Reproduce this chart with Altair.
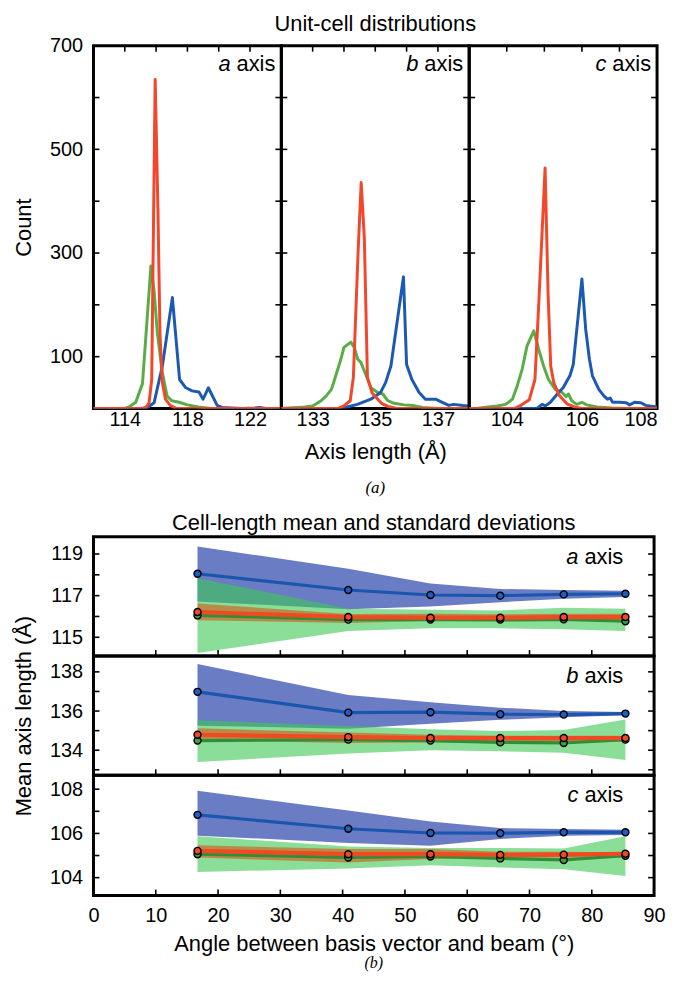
import altair as alt
import pandas as pd

FONT = "Liberation Sans"
SERIF = "Liberation Serif"
BLUE = "#1c59b3"
RED = "#f2472a"
GREEN = "#58ad47"

# ---------------- (a) Unit-cell distributions ----------------
a_blue_x = [112.0, 115.0, 115.45, 115.87, 116.4, 117.04, 117.5, 117.9, 118.3, 118.74, 119.0, 119.34, 119.9, 120.2, 120.8, 121.5, 122.3, 122.6, 123.0, 124.0]
a_blue_y = [0, 0, 2, 11, 82, 214, 56, 40, 34, 32, 18, 40, 6, 2, 1, 0, 1, 2, 0, 0]
a_red_x = [112.0, 115.3, 115.55, 115.72, 115.94, 116.12, 116.25, 116.4, 116.6, 116.9, 117.3, 124.0]
a_red_y = [0, 0, 11, 56, 635, 380, 140, 50, 18, 6, 0, 0]
a_green_x = [112.0, 114.0, 114.27, 114.7, 115.13, 115.67, 115.87, 116.08, 116.4, 116.7, 117.0, 117.47, 118.0, 118.7, 119.5, 124.0]
a_green_y = [0, 0, 3, 12, 48, 275, 227, 146, 69, 24, 15, 12, 7, 3, 0, 0]

b_blue_x = [132.0, 133.8, 134.1, 134.43, 134.86, 135.17, 135.33, 135.5, 135.9, 136.0, 136.17, 136.4, 136.6, 136.93, 137.14, 137.35, 137.5, 137.8, 138.0]
b_blue_y = [0, 0, 3, 8, 18, 31, 50, 82, 254, 85, 56, 31, 18, 18, 12, 6, 8, 6, 5]
b_red_x = [132.0, 133.8, 134.0, 134.2, 134.3, 134.45, 134.55, 134.65, 134.75, 134.9, 135.05, 135.2, 135.4, 135.7, 138.0]
b_red_y = [0, 0, 5, 15, 60, 300, 436, 330, 60, 30, 20, 10, 4, 0, 0]
b_green_x = [132.0, 132.74, 133.0, 133.27, 133.43, 133.6, 133.7, 133.9, 134.0, 134.22, 134.33, 134.44, 134.54, 134.76, 134.86, 135.08, 135.24, 135.4, 135.6, 135.92, 136.2, 136.5, 137.0, 138.0]
b_green_y = [0, 3, 5, 15, 24, 37, 56, 95, 118, 128, 118, 95, 89, 56, 40, 31, 28, 15, 10, 7, 6, 2, 0, 0]

c_blue_x = [103.0, 104.8, 104.94, 105.03, 105.16, 105.38, 105.5, 105.68, 105.77, 106.0, 106.1, 106.2, 106.28, 106.45, 106.59, 106.68, 106.75, 106.82, 107.0, 107.18, 107.27, 107.4, 107.57, 107.7, 107.9, 108.0]
c_blue_y = [0, 0, 8, 5, 12, 31, 40, 63, 85, 250, 153, 95, 63, 37, 24, 18, 20, 12, 12, 11, 7, 12, 11, 6, 4, 3]
c_red_x = [103.0, 104.2, 104.35, 104.6, 104.75, 104.85, 105.02, 105.1, 105.17, 105.25, 105.4, 105.6, 105.8, 106.0, 108.0]
c_red_y = [0, 0, 5, 17, 56, 200, 464, 220, 82, 50, 25, 9, 3, 0, 0]
c_green_x = [103.0, 103.2, 103.5, 103.75, 103.97, 104.15, 104.28, 104.41, 104.54, 104.72, 104.85, 104.98, 105.11, 105.29, 105.47, 105.58, 105.64, 105.73, 105.86, 106.0, 106.13, 106.4, 106.8, 107.2, 108.0]
c_green_y = [0, 0, 3, 5, 8, 18, 44, 76, 121, 150, 114, 82, 56, 37, 31, 23, 28, 15, 8, 12, 7, 3, 1, 0, 0]

hist_domains = {"a": [112, 124], "b": [132, 138], "c": [103, 108]}
hist_labels = {"a": [114, 118, 122], "b": [133, 135, 137], "c": [104, 106, 108]}
hist_xticks = {"a": [114, 116, 118, 120, 122], "b": [133, 134, 135, 136, 137], "c": [104, 105, 106, 107]}
hist_series = {
    "a": [(GREEN, a_green_x, a_green_y), (BLUE, a_blue_x, a_blue_y), (RED, a_red_x, a_red_y)],
    "b": [(GREEN, b_green_x, b_green_y), (BLUE, b_blue_x, b_blue_y), (RED, b_red_x, b_red_y)],
    "c": [(GREEN, c_green_x, c_green_y), (BLUE, c_blue_x, c_blue_y), (RED, c_red_x, c_red_y)],
}
count_labels = [100, 300, 500, 700]
count_ticks = [100, 200, 300, 400, 500, 600]

# ---------------- (b) Cell-length mean and standard deviations ----------------
angle = [16.7, 40.9, 54.1, 65.3, 75.5, 85.4]

a_blue_mean = [118.05, 117.27, 117.03, 117.0, 117.06, 117.09]
a_blue_lo = [116.72, 116.35, 116.48, 116.68, 116.85, 116.94]
a_blue_hi = [119.36, 118.29, 117.58, 117.32, 117.27, 117.24]
a_green_mean = [116.05, 115.85, 115.85, 115.85, 115.86, 115.77]
a_green_lo = [114.25, 115.3, 115.43, 115.43, 115.38, 115.3]
a_green_hi = [117.84, 116.37, 116.32, 116.29, 116.42, 116.37]
a_red_mean = [116.21, 115.97, 115.94, 115.94, 115.97, 115.97]
a_red_lo = [115.82, 115.69, 115.78, 115.74, 115.78, 115.78]
a_red_hi = [116.62, 116.12, 116.13, 116.1, 116.13, 116.13]

b_blue_mean = [136.98, 135.92, 135.94, 135.84, 135.82, 135.87]
b_blue_lo = [135.25, 135.1, 135.35, 135.55, 135.68, 135.78]
b_blue_hi = [138.4, 136.82, 136.45, 136.17, 136.0, 135.95]
b_green_mean = [134.49, 134.54, 134.49, 134.4, 134.37, 134.54]
b_green_lo = [133.4, 133.83, 134.0, 133.95, 133.87, 133.5]
b_green_hi = [135.53, 135.23, 135.07, 134.98, 135.03, 135.57]
b_red_mean = [134.79, 134.67, 134.62, 134.62, 134.62, 134.62]
b_red_lo = [134.5, 134.37, 134.4, 134.43, 134.43, 134.45]
b_red_hi = [135.12, 134.9, 134.79, 134.74, 134.74, 134.74]

c_blue_mean = [106.84, 106.21, 106.02, 106.01, 106.05, 106.05]
c_blue_lo = [105.9, 105.57, 105.44, 105.75, 105.9, 105.93]
c_blue_hi = [107.93, 107.04, 106.54, 106.24, 106.2, 106.17]
c_green_mean = [105.06, 104.91, 104.96, 104.87, 104.8, 104.99]
c_green_lo = [104.26, 104.41, 104.56, 104.46, 104.38, 104.07]
c_green_hi = [105.87, 105.41, 105.34, 105.34, 105.32, 105.87]
c_red_mean = [105.21, 105.06, 105.06, 105.03, 105.04, 105.08]
c_red_lo = [104.91, 104.68, 104.84, 104.9, 104.91, 104.96]
c_red_hi = [105.47, 105.29, 105.29, 105.17, 105.17, 105.14]

mean_domains = {"a": [114.1, 119.83], "b": [132.72, 138.81], "c": [103.19, 108.63]}
mean_labels = {"a": [115, 117, 119], "b": [134, 136, 138], "c": [104, 106, 108]}
mean_ticks = {"a": [115, 116, 117, 118, 119], "b": [133, 134, 135, 136, 137, 138], "c": [104, 105, 106, 107, 108]}
mean_series = {
    "a": {"blue": (a_blue_mean, a_blue_lo, a_blue_hi), "green": (a_green_mean, a_green_lo, a_green_hi), "red": (a_red_mean, a_red_lo, a_red_hi)},
    "b": {"blue": (b_blue_mean, b_blue_lo, b_blue_hi), "green": (b_green_mean, b_green_lo, b_green_hi), "red": (b_red_mean, b_red_lo, b_red_hi)},
    "c": {"blue": (c_blue_mean, c_blue_lo, c_blue_hi), "green": (c_green_mean, c_green_lo, c_green_hi), "red": (c_red_mean, c_red_lo, c_red_hi)},
}
angle_labels = [0, 10, 20, 30, 40, 50, 60, 70, 80, 90]
angle_ticks = [10, 20, 30, 40, 50, 60, 70, 80]

W1, H1 = 189, 365
W2 = 564
H2 = {"a": 120, "b": 120, "c": 121}
TK = 6
LBL = 20
TTL = 22


def text_layer(txt, x, y, size=TTL, font=FONT, style="normal", align="center"):
    return alt.Chart(pd.DataFrame({"t": [txt]})).mark_text(
        align=align, baseline="middle", fontSize=size, font=font, fontStyle=style, color="black"
    ).encode(text="t:N", x=alt.value(x), y=alt.value(y))


def label_layers(letter, w, right_margin, ypos):
    return [text_layer(letter, w - right_margin - 45, ypos, style="italic", align="right"),
            text_layer("axis", w - right_margin, ypos, align="right")]


def hist_panel(key, first, middle, last):
    xaxis = alt.Axis(values=hist_labels[key], ticks=False, domain=False, grid=False,
                     labelFontSize=LBL, labelFont=FONT, labelColor="black", labelPadding=1,
                     labelFlush=last, title="Axis length (Å)" if middle else "",
                     titleFontSize=TTL, titleFont=FONT, titleFontWeight="normal",
                     titleColor="black", titlePadding=12)
    if first:
        yaxis = alt.Axis(values=count_labels, ticks=False, domain=False, grid=False,
                         labelFontSize=LBL, labelFont=FONT, labelColor="black", labelPadding=11,
                         title="Count", titleFontSize=TTL, titleFont=FONT, titleFontWeight="normal",
                         titleColor="black", titlePadding=14)
    else:
        yaxis = None

    def X():
        return alt.X("x:Q", scale=alt.Scale(domain=hist_domains[key], nice=False, zero=False), axis=xaxis)

    def Y():
        return alt.Y("y:Q", scale=alt.Scale(domain=[0, 700], nice=False), axis=yaxis)

    layers = []
    for col, xs, ys in hist_series[key]:
        df = pd.DataFrame({"x": xs, "y": ys})
        layers.append(alt.Chart(df).mark_line(color=col, strokeWidth=3, clip=True,
                                              strokeJoin="round").encode(x=X(), y=Y()))
    ydf = pd.DataFrame({"y": count_ticks})
    layers.append(alt.Chart(ydf).mark_rule(color="black", strokeWidth=1.6).encode(
        y=Y(), x=alt.value(0), x2=alt.value(TK)))
    layers.append(alt.Chart(ydf).mark_rule(color="black", strokeWidth=1.6).encode(
        y=Y(), x=alt.value(W1 - TK), x2=alt.value(W1)))
    xdf = pd.DataFrame({"x": hist_xticks[key]})
    layers.append(alt.Chart(xdf).mark_rule(color="black", strokeWidth=1.6).encode(
        x=X(), y=alt.value(0), y2=alt.value(TK)))
    layers += label_layers(key, W1, 6, 18)
    if middle:
        layers.append(text_layer("Unit-cell distributions", W1 / 2, -22))
        layers.append(text_layer("(a)", W1 / 2, H1 + 80, size=17, font=SERIF, style="italic"))
    return alt.layer(*layers).properties(width=W1, height=H1)


def mean_panel(key, first, mid, last):
    if last:
        xaxis = alt.Axis(values=angle_labels, ticks=False, domain=False, grid=False,
                         labelFontSize=LBL, labelFont=FONT, labelColor="black", labelPadding=10,
                         labelFlush=False, title="Angle between basis vector and beam (°)",
                         titleFontSize=TTL, titleFont=FONT, titleFontWeight="normal",
                         titleColor="black", titlePadding=8)
    else:
        xaxis = None
    yaxis = alt.Axis(values=mean_labels[key], ticks=False, domain=False, grid=False,
                     labelFontSize=LBL, labelFont=FONT, labelColor="black", labelPadding=11,
                     title="Mean axis length (Å)" if mid else "", titleFontSize=TTL, titleFont=FONT,
                     titleFontWeight="normal", titleColor="black", titlePadding=14)

    def X():
        return alt.X("x:Q", scale=alt.Scale(domain=[0, 90], nice=False, zero=False), axis=xaxis)

    def Y(field):
        return alt.Y(field, scale=alt.Scale(domain=mean_domains[key], nice=False, zero=False), axis=yaxis)

    s = mean_series[key]
    dfs = {n: pd.DataFrame({"x": angle, "m": v[0], "lo": v[1], "hi": v[2]}) for n, v in s.items()}
    layers = []
    band_style = {"blue": ("#5d72bf", 0.92), "green": ("#3cc853", 0.6), "red": ("#d35a1c", 0.62)}
    for n in ["blue", "green", "red"]:
        col, op = band_style[n]
        layers.append(alt.Chart(dfs[n]).mark_area(color=col, opacity=op, clip=True).encode(
            x=X(), y=Y("lo:Q"), y2="hi:Q"))
    line_style = {"green": ("#2f8f36", 3.2), "blue": ("#1a55ae", 3.2), "red": ("#f04a22", 4.2)}
    for n in ["green", "blue", "red"]:
        col, sw = line_style[n]
        layers.append(alt.Chart(dfs[n]).mark_line(color=col, strokeWidth=sw, clip=True).encode(
            x=X(), y=Y("m:Q")))
    pt_col = {"green": "#3aa143", "blue": "#1f5fbf", "red": "#f04a22"}
    for n in ["green", "blue", "red"]:
        layers.append(alt.Chart(dfs[n]).mark_point(shape="circle", filled=True, fill=pt_col[n],
                                                   stroke="black", strokeWidth=1.4, size=50,
                                                   opacity=1).encode(x=X(), y=Y("m:Q")))
    ydf = pd.DataFrame({"m": mean_ticks[key]})
    layers.append(alt.Chart(ydf).mark_rule(color="black", strokeWidth=1.6).encode(
        y=Y("m:Q"), x=alt.value(0), x2=alt.value(TK)))
    layers.append(alt.Chart(ydf).mark_rule(color="black", strokeWidth=1.6).encode(
        y=Y("m:Q"), x=alt.value(W2 - TK), x2=alt.value(W2)))
    xdf = pd.DataFrame({"x": angle_ticks})
    layers.append(alt.Chart(xdf).mark_rule(color="black", strokeWidth=1.6).encode(
        x=X(), y=alt.value(H2[key] - TK), y2=alt.value(H2[key])))
    layers += label_layers(key, W2, 31, 20)
    if first:
        layers.append(text_layer("Cell-length mean and standard deviations", W2 / 2, -14))
    if last:
        layers.append(text_layer("(b)", W2 / 2, H2[key] + 68, size=16, font=SERIF, style="italic"))
    return alt.layer(*layers).properties(width=W2, height=H2[key])


top = alt.hconcat(hist_panel("a", True, False, False), hist_panel("b", False, True, False),
                  hist_panel("c", False, False, True), spacing=0, bounds="flush")
bottom = alt.vconcat(mean_panel("a", True, False, False), mean_panel("b", False, True, False),
                     mean_panel("c", False, False, True), spacing=0, bounds="flush")

chart = alt.vconcat(top, bottom, spacing=12).properties(
    padding={"left": 3, "top": 0, "right": 0, "bottom": 0}
).configure_view(stroke="black", strokeWidth=3)

chart.save("out.html", embed_options={"renderer": "svg", "actions": False})
